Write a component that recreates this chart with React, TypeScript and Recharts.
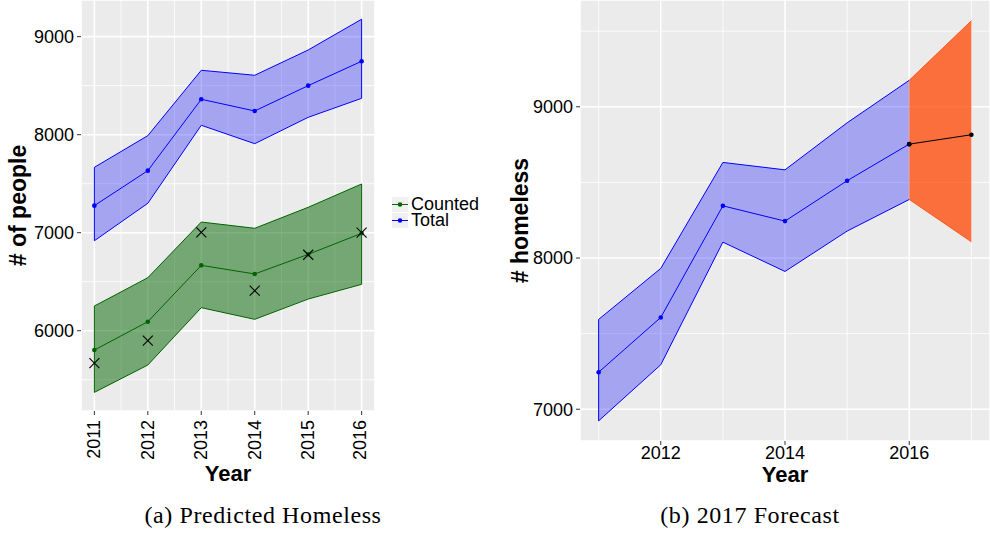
import { ComposedChart, Area, Line, Scatter, XAxis, YAxis, CartesianGrid, ReferenceLine } from 'recharts';

// left panel: predicted homeless
const years = [2011, 2012, 2013, 2014, 2015, 2016];
const totalMean = [7276, 7633, 8361, 8242, 8500, 8749];
const totalHigh = [7667, 7990, 8657, 8606, 8864, 9178];
const totalLow = [6918, 7300, 8096, 7908, 8177, 8371];
const countedMean = [5803, 6092, 6667, 6579, 6779, 6994];
const countedHigh = [6252, 6541, 7109, 7045, 7259, 7497];
const countedLow = [5371, 5650, 6235, 6116, 6323, 6473];
const countedActual = [5670, 5898, 7004, 6408, 6775, 7000];

// right panel: 2017 forecast
const fitMean = [7245, 7607, 8345, 8244, 8511, 8753];
const fitHigh = [7594, 7931, 8632, 8583, 8894, 9175];
const fitLow = [6923, 7294, 8105, 7911, 8178, 8387];
const forecastYears = [2016, 2017];
const forecastMean = [8753, 8815];
const forecastHigh = [9175, 9569];
const forecastLow = [8387, 8107];

const leftYTicks = [6000, 7000, 8000, 9000];
const leftYMinor = [5500, 6500, 7500, 8500];
const leftXMinor = [2011.5, 2012.5, 2013.5, 2014.5, 2015.5];
const rightYTicks = [7000, 8000, 9000];
const rightYMinor = [7500, 8500, 9500];
const rightXTicks = [2012, 2014, 2016];
const rightXMinor = [2011, 2013, 2015, 2017];

const build = (xs: number[], mean: number[], low: number[], high: number[]) =>
  xs.map((year, i) => ({ year, mean: mean[i], range: [low[i], high[i]] }));

const totalData = build(years, totalMean, totalLow, totalHigh);
const countedData = build(years, countedMean, countedLow, countedHigh);
const actualData = years.map((year, i) => ({ year, actual: countedActual[i] }));
const fitData = build(years, fitMean, fitLow, fitHigh);
const forecastData = build(forecastYears, forecastMean, forecastLow, forecastHigh);

const FONT = '"Liberation Sans", Arial, sans-serif';
const BLUE = '#0000FF';
const GREEN = '#006400';
const ORANGE = '#FF4500';

const tickStyle = { fontSize: 18, fill: '#000', fontFamily: FONT };

const Cross = (props: any) => {
  const { cx, cy } = props;
  const s = 5;
  return (
    <g>
      <line x1={cx - s} y1={cy - s} x2={cx + s} y2={cy + s} stroke="#000" strokeWidth={1.1} />
      <line x1={cx - s} y1={cy + s} x2={cx + s} y2={cy - s} stroke="#000" strokeWidth={1.1} />
    </g>
  );
};

const RotatedTick = (props: any) => {
  const { x, y, payload } = props;
  return (
    <text
      transform={`translate(${x},${y + 3}) rotate(-90)`}
      textAnchor="end"
      dominantBaseline="central"
      style={tickStyle}
    >
      {payload.value}
    </text>
  );
};

const yTitle = (text: string, dx: number) => (props: any) => {
  const vb = props.viewBox || {};
  const cx = (vb.x ?? 0) + dx;
  const cy = (vb.y ?? 0) + (vb.height ?? 0) / 2;
  return (
    <text
      x={cx}
      y={cy}
      transform={`rotate(-90 ${cx} ${cy})`}
      textAnchor="middle"
      dominantBaseline="central"
      style={{ fontSize: 23, fontWeight: 700, fontFamily: FONT, fill: '#000' }}
    >
      {text}
    </text>
  );
};

const xTitle = (text: string, dy: number) => (props: any) => {
  const vb = props.viewBox || {};
  const cx = (vb.x ?? 0) + (vb.width ?? 0) / 2;
  const cy = (vb.y ?? 0) + dy;
  return (
    <text
      x={cx}
      y={cy}
      textAnchor="middle"
      dominantBaseline="central"
      style={{ fontSize: 22, fontWeight: 700, fontFamily: FONT, fill: '#000' }}
    >
      {text}
    </text>
  );
};

const LegendKey = ({ color, label }: { color: string; label: string }) => (
  <div style={{ display: 'flex', alignItems: 'center', height: 16 }}>
    <svg width={16} height={15} style={{ background: '#F0F0F0' }}>
      <line x1={0} y1={7.5} x2={16} y2={7.5} stroke={color} strokeWidth={1} />
      <circle cx={8} cy={7.5} r={2.3} fill={color} />
    </svg>
    <span style={{ marginLeft: 3, fontSize: 18, fontFamily: FONT, lineHeight: '16px' }}>{label}</span>
  </div>
);

const caption: React.CSSProperties = {
  position: 'absolute',
  top: 502,
  fontFamily: '"Liberation Serif", "Times New Roman", serif',
  fontSize: 24,
  letterSpacing: 0.6,
  textAlign: 'center',
  whiteSpace: 'nowrap',
};

export default function App() {
  return (
    <div style={{ position: 'absolute', left: 0, top: 0, width: 990, height: 536, background: '#fff' }}>
      <div style={{ position: 'absolute', left: 0, top: 0 }}>
        <ComposedChart width={376} height={490} margin={{ top: 0, right: 1, bottom: 0, left: 0 }}>
          <CartesianGrid fill="#EBEBEB" stroke="#fff" strokeWidth={0.8} horizontalValues={leftYMinor} verticalValues={leftXMinor} />
          <CartesianGrid stroke="#fff" strokeWidth={1.6} />
          <XAxis
            type="number"
            dataKey="year"
            domain={[2010.75, 2016.25]}
            ticks={years}
            allowDataOverflow
            axisLine={false}
            tickSize={4}
            tickLine={{ stroke: '#333' }}
            tick={<RotatedTick />}
            height={79}
            label={{ content: xTitle('Year', 62) }}
          />
          <YAxis
            type="number"
            domain={[5181, 9374]}
            ticks={leftYTicks}
            allowDataOverflow
            axisLine={false}
            tickSize={4}
            tickMargin={3}
            tickLine={{ stroke: '#333' }}
            tick={tickStyle}
            width={81}
            label={{ content: yTitle('# of people', 17.5) }}
          />
          <Area data={totalData} dataKey="range" type="linear" fill={BLUE} fillOpacity={0.3} stroke={BLUE} strokeWidth={1} isAnimationActive={false} activeDot={false} />
          <Area data={countedData} dataKey="range" type="linear" fill={GREEN} fillOpacity={0.5} stroke={GREEN} strokeWidth={1} isAnimationActive={false} activeDot={false} />
          <ReferenceLine segment={[{ x: years[0], y: totalLow[0] }, { x: years[0], y: totalHigh[0] }]} stroke={BLUE} strokeWidth={1} />
          <ReferenceLine segment={[{ x: years[5], y: totalLow[5] }, { x: years[5], y: totalHigh[5] }]} stroke={BLUE} strokeWidth={1} />
          <ReferenceLine segment={[{ x: years[0], y: countedLow[0] }, { x: years[0], y: countedHigh[0] }]} stroke={GREEN} strokeWidth={1} />
          <ReferenceLine segment={[{ x: years[5], y: countedLow[5] }, { x: years[5], y: countedHigh[5] }]} stroke={GREEN} strokeWidth={1} />
          <Line data={totalData} dataKey="mean" type="linear" stroke={BLUE} strokeWidth={1} dot={{ r: 2.3, fill: BLUE, stroke: 'none' }} activeDot={false} isAnimationActive={false} />
          <Line data={countedData} dataKey="mean" type="linear" stroke={GREEN} strokeWidth={1} dot={{ r: 2.3, fill: GREEN, stroke: 'none' }} activeDot={false} isAnimationActive={false} />
          <Scatter data={actualData} dataKey="actual" shape={<Cross />} isAnimationActive={false} />
        </ComposedChart>
      </div>

      <div style={{ position: 'absolute', left: 392, top: 196 }}>
        <LegendKey color={GREEN} label="Counted" />
        <LegendKey color={BLUE} label="Total" />
      </div>

      <div style={{ position: 'absolute', left: 500, top: 0 }}>
        <ComposedChart width={490} height={490} margin={{ top: 0, right: 0, bottom: 0, left: 0 }}>
          <CartesianGrid fill="#EBEBEB" stroke="#fff" strokeWidth={0.8} horizontalValues={rightYMinor} verticalValues={rightXMinor} />
          <CartesianGrid stroke="#fff" strokeWidth={1.6} />
          <XAxis
            type="number"
            dataKey="year"
            domain={[2010.7, 2017.3]}
            ticks={rightXTicks}
            allowDataOverflow
            axisLine={false}
            tickSize={4}
            tickMargin={1}
            tickLine={{ stroke: '#333' }}
            tick={tickStyle}
            height={49}
            label={{ content: xTitle('Year', 33) }}
          />
          <YAxis
            type="number"
            domain={[6790, 9706]}
            ticks={rightYTicks}
            allowDataOverflow
            axisLine={false}
            tickSize={4}
            tickMargin={3}
            tickLine={{ stroke: '#333' }}
            tick={tickStyle}
            width={80}
            label={{ content: yTitle('# homeless', 19.5) }}
          />
          <Area data={fitData} dataKey="range" type="linear" fill={BLUE} fillOpacity={0.3} stroke={BLUE} strokeWidth={1} isAnimationActive={false} activeDot={false} />
          <ReferenceLine segment={[{ x: years[0], y: fitLow[0] }, { x: years[0], y: fitHigh[0] }]} stroke={BLUE} strokeWidth={1} />
          <Line data={fitData} dataKey="mean" type="linear" stroke={BLUE} strokeWidth={1} dot={{ r: 2.3, fill: BLUE, stroke: 'none' }} activeDot={false} isAnimationActive={false} />
          <Area data={forecastData} dataKey="range" type="linear" fill={ORANGE} fillOpacity={0.75} stroke={ORANGE} strokeWidth={0.8} isAnimationActive={false} activeDot={false} />
          <Line data={forecastData} dataKey="mean" type="linear" stroke="#000" strokeWidth={1} dot={{ r: 2.3, fill: '#000', stroke: 'none' }} activeDot={false} isAnimationActive={false} />
        </ComposedChart>
      </div>

      <div style={{ ...caption, left: 143, width: 240 }}>(a) Predicted Homeless</div>
      <div style={{ ...caption, left: 650, width: 200 }}>(b) 2017 Forecast</div>
    </div>
  );
}
